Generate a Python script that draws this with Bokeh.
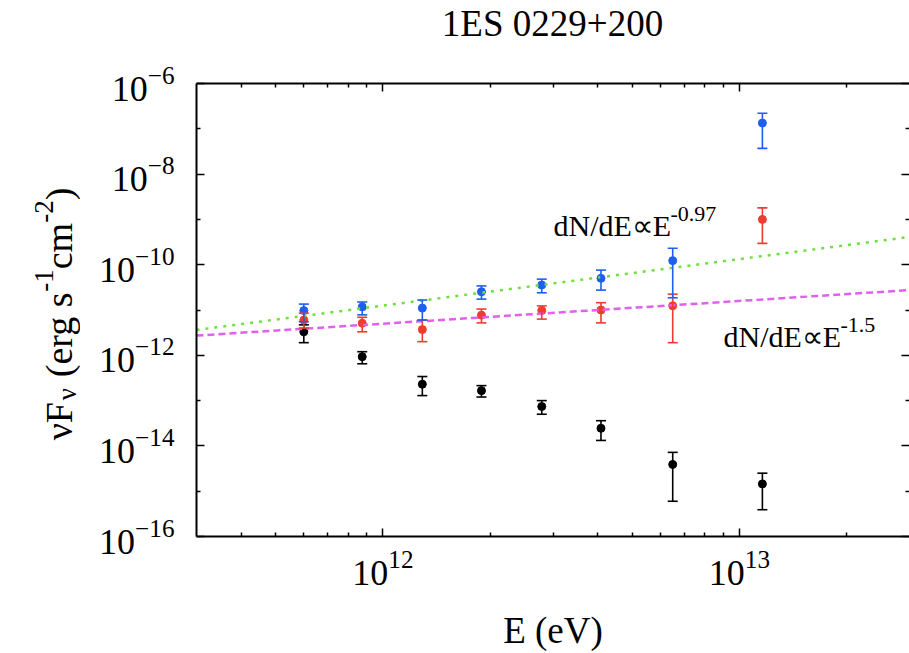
import math
from bokeh.plotting import figure
from bokeh.layouts import row, column
from bokeh.models import (LogAxis, FixedTicker, Whisker, ColumnDataSource, Label,
                          TeeHead, Range1d, CustomJSTickFormatter)
from bokeh.core.properties import value
from bokeh.embed import file_html
from bokeh.resources import INLINE

# ---------------- data ----------------
energy_ev = [6.0e11, 8.75e11, 1.29e12, 1.89e12, 2.79e12, 4.09e12, 6.5e12, 1.16e13]

blue_flux  = [9.7e-12, 1.17e-11, 1.1e-11, 2.53e-11, 3.55e-11, 5.0e-11, 1.23e-10, 1.34e-7]
blue_upper = [1.35e-11, 1.5e-11, 1.66e-11, 3.4e-11, 4.8e-11, 7.6e-11, 2.3e-10, 2.2e-7]
blue_lower = [5.5e-12, 7.8e-12, 6.0e-12, 1.74e-11, 2.4e-11, 2.75e-11, 1.86e-11, 3.7e-8]

red_flux  = [6.0e-12, 5.1e-12, 3.7e-12, 7.7e-12, 9.7e-12, 1.0e-11, 1.24e-11, 1.0e-9]
red_upper = [8.5e-12, 6.9e-12, 6.0e-12, 1.05e-11, 1.23e-11, 1.45e-11, 2.24e-11, 1.8e-9]
red_lower = [4.0e-12, 3.3e-12, 2.0e-12, 5.2e-12, 6.3e-12, 5.2e-12, 1.9e-12, 2.95e-10]

black_flux  = [3.3e-12, 9.3e-13, 2.3e-13, 1.66e-13, 7.4e-14, 2.45e-14, 3.9e-15, 1.45e-15]
black_upper = [4.7e-12, 1.2e-12, 3.4e-13, 2.14e-13, 1.0e-13, 3.6e-14, 7.2e-15, 2.5e-15]
black_lower = [1.9e-12, 6.5e-13, 1.29e-13, 1.2e-13, 5.0e-14, 1.32e-14, 6.0e-16, 3.9e-16]

# power-law guide lines (end points)
line_energy = [3.0e11, 3.0e13]
green_line = [3.63e-12, 4.1e-10]     # dN/dE ~ E^-0.97
pink_line = [2.72e-12, 2.75e-11]     # dN/dE ~ E^-1.5

x_major_ticks = [1e12, 1e13]
x_minor_ticks = [4e11, 5e11, 6e11, 7e11, 8e11, 9e11,
                 2e12, 3e12, 4e12, 5e12, 6e12, 7e12, 8e12, 9e12, 2e13]
y_major_ticks = [1e-16, 1e-14, 1e-12, 1e-10, 1e-8, 1e-6]
y_minor_ticks = [1e-15, 1e-13, 1e-11, 1e-9, 1e-7]

title_text = "1ES 0229+200"
x_label = "E (eV)"

# ---------------- layout constants ----------------
W, H = 909, 653
TITLE_H = 56                # strip above holding the title
SIDE_W = 80                 # narrow panel holding the rotated y label
FRAME_LEFT = 196            # frame left edge in window pixels
FRAME_TOP = 83
FRAME_BOTTOM = 537
PH = H - TITLE_H            # height of the plot row
SERIF = "Liberation Serif"

p = figure(width=W - SIDE_W, height=PH, x_axis_type="log", y_axis_type="log",
           x_range=Range1d(3.0e11, 3.0e13), y_range=Range1d(1e-16, 1e-6),
           output_backend="svg", toolbar_location=None, title=None,
           min_border_left=FRAME_LEFT - SIDE_W, min_border_right=0,
           min_border_top=FRAME_TOP - TITLE_H, min_border_bottom=H - FRAME_BOTTOM)
p.outline_line_color = None
p.grid.visible = False

bottom_axis = p.below[0]
left_axis = p.left[0]

xt = FixedTicker(ticks=x_major_ticks, minor_ticks=x_minor_ticks)
yt = FixedTicker(ticks=y_major_ticks, minor_ticks=y_minor_ticks)
bottom_axis.ticker = xt
left_axis.ticker = yt

top_axis = LogAxis(ticker=xt)
right_axis = LogAxis(ticker=yt)
p.add_layout(top_axis, "above")
p.add_layout(right_axis, "right")

for ax in [bottom_axis, left_axis, top_axis, right_axis]:
    ax.axis_line_width = 2
    ax.axis_line_color = "black"
    ax.major_tick_in = 8
    ax.major_tick_out = 0
    ax.minor_tick_in = 4
    ax.minor_tick_out = 0
    ax.major_tick_line_width = 1.5
    ax.minor_tick_line_width = 1.5
    ax.major_label_text_font = SERIF
    ax.major_label_text_font_size = "36px"
    ax.major_label_text_color = "black"

bottom_axis.major_label_standoff = 14
left_axis.major_label_standoff = 22
bottom_axis.axis_label = x_label
bottom_axis.axis_label_text_font = SERIF
bottom_axis.axis_label_text_font_size = "37px"
bottom_axis.axis_label_text_font_style = "normal"
bottom_axis.axis_label_text_color = "black"
bottom_axis.axis_label_standoff = 22

for ax in [top_axis, right_axis]:
    ax.formatter = CustomJSTickFormatter(code="return ''")
    ax.major_label_standoff = 0
    ax.major_label_text_font_size = "1px"
right_axis.axis_line_color = None

# ---------------- data marks ----------------
series = [
    (black_flux, black_upper, black_lower, "black"),
    (red_flux, red_upper, red_lower, "#ee3d2f"),
    (blue_flux, blue_upper, blue_lower, "#1f5ef2"),
]
for flux, up, lo, col in series:
    src = ColumnDataSource(dict(x=energy_ev, y=flux, upper=up, lower=lo))
    w = Whisker(source=src, base="x", upper="upper", lower="lower", dimension="height",
                line_color=col, line_width=1.6,
                upper_head=TeeHead(size=10, line_color=col, line_width=1.6),
                lower_head=TeeHead(size=10, line_color=col, line_width=1.6))
    w.level = "glyph"
    p.add_layout(w)
    p.scatter("x", "y", source=src, size=8, color=col)

p.line(line_energy, green_line, line_color="#6ee03c", line_width=2.5, line_dash="3 6")
p.line(line_energy, pink_line, line_color="#e25ff0", line_width=2.5, line_dash="7 4")


def add_text(text, cx, cy, size):
    p.add_layout(Label(x=cx - FRAME_LEFT, y=FRAME_BOTTOM - cy, x_units="screen",
                       y_units="screen", text=text, text_font=SERIF,
                       text_font_size=f"{size}px", text_align="left",
                       text_baseline="alphabetic", text_color="black"))


# annotations: dN/dE ∝ E^{index}
add_text("dN/dE\u221dE", 553, 226, 30)
add_text("-0.97", 670, 214, 22)
add_text("dN/dE\u221dE", 723, 337, 30)
add_text("-1.5", 840, 325, 22)


def blank_figure(width, height, x_range, y_range):
    f = figure(width=width, height=height, x_range=x_range, y_range=y_range,
               output_backend="svg", toolbar_location=None, title=None,
               x_axis_location=None, y_axis_location=None,
               min_border_left=0, min_border_right=0, min_border_top=0,
               min_border_bottom=0)
    f.outline_line_color = None
    f.grid.visible = False
    return f


# ---------------- title strip ----------------
top = blank_figure(W, TITLE_H, Range1d(0, W), Range1d(0, 1))
top.text(x=[552], y=[0.5], y_offset=-5, text=[title_text],
         text_font=value(SERIF), text_font_size=value("37px"),
         text_align="center", text_baseline="alphabetic", text_color="black")

# ---------------- side panel with the rotated y-axis label ----------------
side = blank_figure(SIDE_W, PH, Range1d(0, SIDE_W), Range1d(0, 1))

# νF_ν (erg s^-1 cm^-2), piece by piece, reading bottom to top; pieces are
# anchored at the panel's vertical centre and spaced with pixel offsets
EM = {"\u03bd": 0.5, "F": 0.556, " ": 0.25, "(": 0.333, ")": 0.333, "e": 0.444,
      "r": 0.333, "g": 0.5, "s": 0.389, "c": 0.444, "m": 0.778, "-": 0.333,
      "1": 0.5, "2": 0.5}
BIG, SMALL = 38, 27
# (text, font px, shift of the baseline in px, extra gap before the piece in em)
pieces = [("\u03bdF", BIG, 0, 0.0), ("\u03bd", SMALL, 8, 0.0), ("(erg s", BIG, 0, 0.25),
          ("-1", SMALL, -15, 0.0), ("cm", BIG, 0, 0.0), ("-2", SMALL, -15, 0.0),
          (")", BIG, 0, 0.0)]
total = sum((sum(EM[c] for c in t) + g) * s for t, s, _, g in pieces)
off = total / 2 + 4      # pixels below the centre where the text starts
base_x = 58
for t, s, dx, g in pieces:
    off -= g * BIG
    side.text(x=[base_x + dx], y=[0.5], y_offset=off, text=[t], angle=math.pi / 2,
              text_font=value(SERIF), text_font_size=value(f"{s}px"),
              text_align="left", text_baseline="alphabetic", text_color="black")
    off -= sum(EM[c] for c in t) * s

layout = column(top, row(side, p))
open("out.html", "w").write(file_html(layout, INLINE))
